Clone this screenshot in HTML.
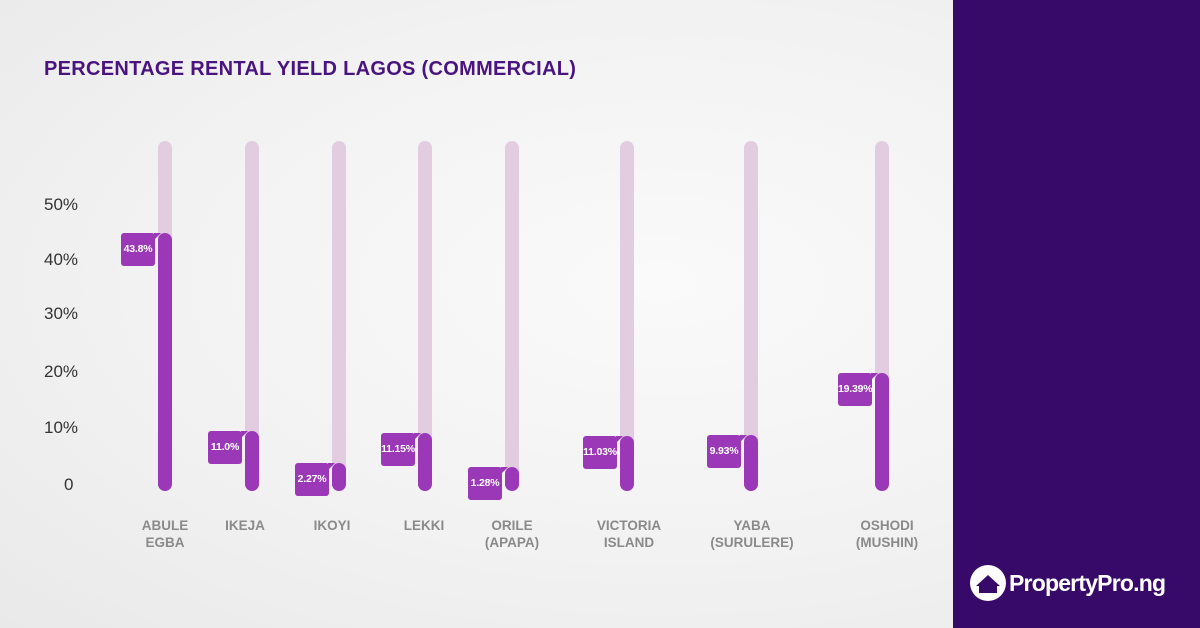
<!DOCTYPE html><html><head><style>
body{margin:0;width:1200px;height:628px;overflow:hidden;font-family:"Liberation Sans",sans-serif;position:relative;background:radial-gradient(ellipse at 55% 45%,#fafafa 0%,#f2f2f2 55%,#e9e9e9 100%)}
.side{position:absolute;left:953px;top:0;width:247px;height:628px;background:#370a69}
.t{position:absolute;left:44px;top:58px;font-size:20px;font-weight:bold;color:#4a1480;letter-spacing:0.3px}
.y{position:absolute;left:44px;font-size:17px;color:#333}
.trk{position:absolute;top:141px;width:14px;height:350px;border-radius:7px;background:#e2cde0}
.bar{position:absolute;width:14px;border-radius:7px;background:#9b38b8}
.lb{position:absolute;width:34px;height:33px;background:#9b38b8;border-radius:3px;color:#fff;font-weight:bold;font-size:10.5px;line-height:33px;text-align:center;letter-spacing:-0.2px}
.lb:after{content:"";position:absolute;right:-6px;top:0;border-left:7px solid #9b38b8;border-bottom:7px solid transparent}
.c{position:absolute;top:517px;width:120px;text-align:center;font-size:13.5px;font-weight:bold;color:#8a8a8a;line-height:17px}
</style></head><body>
<div class="t">PERCENTAGE RENTAL YIELD LAGOS (COMMERCIAL)</div>
<div class="y" style="top:195px">50%</div><div class="y" style="top:250px">40%</div><div class="y" style="top:304px">30%</div><div class="y" style="top:362px">20%</div><div class="y" style="top:418px">10%</div><div class="y" style="top:475px;left:64px">0</div>
<div class="trk" style="left:158px"></div><div class="bar" style="left:158px;top:233px;height:258px"></div><div class="lb" style="left:121px;top:233px">43.8%</div>
<div class="trk" style="left:245px"></div><div class="bar" style="left:245px;top:431px;height:60px"></div><div class="lb" style="left:208px;top:431px">11.0%</div>
<div class="trk" style="left:332px"></div><div class="bar" style="left:332px;top:463px;height:28px"></div><div class="lb" style="left:295px;top:463px">2.27%</div>
<div class="trk" style="left:418px"></div><div class="bar" style="left:418px;top:433px;height:58px"></div><div class="lb" style="left:381px;top:433px">11.15%</div>
<div class="trk" style="left:505px"></div><div class="bar" style="left:505px;top:467px;height:24px"></div><div class="lb" style="left:468px;top:467px">1.28%</div>
<div class="trk" style="left:620px"></div><div class="bar" style="left:620px;top:436px;height:55px"></div><div class="lb" style="left:583px;top:436px">11.03%</div>
<div class="trk" style="left:744px"></div><div class="bar" style="left:744px;top:435px;height:56px"></div><div class="lb" style="left:707px;top:435px">9.93%</div>
<div class="trk" style="left:875px"></div><div class="bar" style="left:875px;top:373px;height:118px"></div><div class="lb" style="left:838px;top:373px">19.39%</div>
<div class="c" style="left:105px">ABULE<br>EGBA</div>
<div class="c" style="left:185px">IKEJA</div>
<div class="c" style="left:272px">IKOYI</div>
<div class="c" style="left:364px">LEKKI</div>
<div class="c" style="left:452px">ORILE<br>(APAPA)</div>
<div class="c" style="left:569px">VICTORIA<br>ISLAND</div>
<div class="c" style="left:692px">YABA<br>(SURULERE)</div>
<div class="c" style="left:827px">OSHODI<br>(MUSHIN)</div>
<div class="side">
<svg style="position:absolute;left:17px;top:565px" width="36" height="36" viewBox="0 0 36 36"><circle cx="18" cy="18" r="18" fill="#fff"/><path d="M6 21 L18 10 L30 21 L27 21 L27 28 L9 28 L9 21 Z" fill="#370a69"/></svg>
<div style="position:absolute;left:56px;top:570px;color:#fff;font-size:23px;font-weight:bold;letter-spacing:-0.8px">PropertyPro.ng</div>
</div>
</body></html>
